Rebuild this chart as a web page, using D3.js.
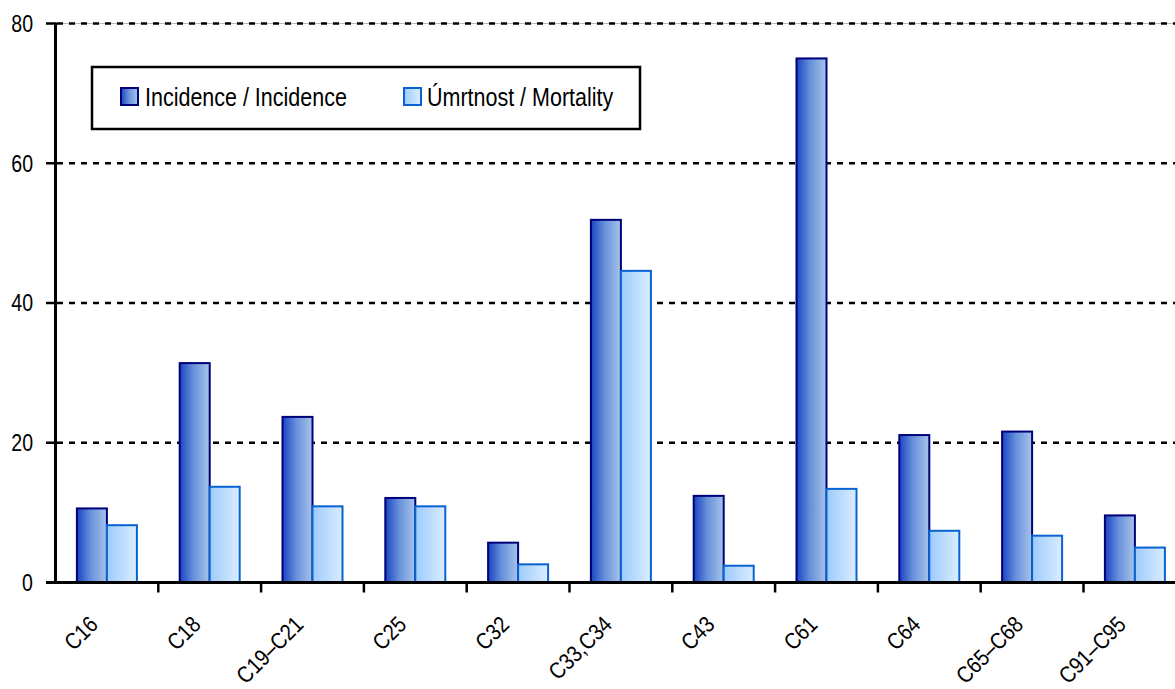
<!DOCTYPE html>
<html><head><meta charset="utf-8">
<script src="https://cdn.jsdelivr.net/npm/d3@7"></script>
<style>
html,body{margin:0;padding:0;background:#fff;overflow:hidden;}
text{font-family:"Liberation Sans",Arial,sans-serif;fill:#000;}
</style></head>
<body>
<svg id="chart" width="1175" height="689"></svg>
<script>
const categories = ["C16","C18","C19–C21","C25","C32","C33,C34","C43","C61","C64","C65–C68","C91–C95"];
const incidence = [10.6, 31.4, 23.7, 12.1, 5.7, 51.9, 12.4, 75.0, 21.1, 21.6, 9.6];
const mortality = [8.2, 13.7, 10.9, 10.9, 2.6, 44.6, 2.4, 13.4, 7.4, 6.7, 5.0];
const yTicks = [0, 20, 40, 60, 80];
const seriesNames = ["Incidence / Incidence", "Úmrtnost / Mortality"];

const svg = d3.select("#chart");
const defs = svg.append("defs");
function grad(id, stops){
  const g = defs.append("linearGradient").attr("id", id).attr("x1","0%").attr("x2","100%").attr("y1","0%").attr("y2","0%");
  stops.forEach(s => g.append("stop").attr("offset", s[0]).attr("stop-color", s[1]));
}
grad("gInc", [["0%","#1a44c2"],["45%","#6690da"],["100%","#a7c4ea"]]);
grad("gMor", [["0%","#9ccbfc"],["100%","#dbedff"]]);

const x = d3.scaleBand().domain(categories).range([55.5, 1186.3]).paddingInner(0).paddingOuter(0);
const y = d3.scaleLinear().domain([0, 80]).range([582.5, 23.5]);
const barW = 30;
const off = (x.bandwidth() - 2 * barW) / 2;

// gridlines
const grid = svg.append("g");
yTicks.filter(t => t > 0).forEach(t => {
  if (t === 80) {
    grid.append("line").attr("x1", 55).attr("x2", 1175).attr("y1", y(t)).attr("y2", y(t))
      .attr("stroke", "#bbb").attr("stroke-width", 1);
  }
  grid.append("line").attr("x1", 57).attr("x2", 1175).attr("y1", y(t)).attr("y2", y(t))
    .attr("stroke", "#000").attr("stroke-width", 2.5).attr("stroke-dasharray", "6,6");
});

// bars
const bars = svg.append("g");
categories.forEach((c, i) => {
  const x0 = x(c) + off;
  bars.append("rect").attr("x", x0).attr("y", y(incidence[i])).attr("width", barW)
    .attr("height", y(0) - y(incidence[i])).attr("fill", "url(#gInc)")
    .attr("stroke", "#00007a").attr("stroke-width", 2);
  bars.append("rect").attr("x", x0 + barW).attr("y", y(mortality[i])).attr("width", barW)
    .attr("height", y(0) - y(mortality[i])).attr("fill", "url(#gMor)")
    .attr("stroke", "#0a62d2").attr("stroke-width", 2);
});

// y axis
const yAxis = svg.append("g");
yAxis.append("line").attr("x1", 55.5).attr("x2", 55.5).attr("y1", y(80) - 1).attr("y2", y(0) + 1.5)
  .attr("stroke", "#000").attr("stroke-width", 3);
yTicks.forEach(t => {
  yAxis.append("line").attr("x1", 46).attr("x2", 55.5).attr("y1", y(t)).attr("y2", y(t))
    .attr("stroke", "#000").attr("stroke-width", 2.5);
  yAxis.append("text").attr("transform", `translate(33,${y(t)}) scale(0.85,1)`)
    .attr("text-anchor", "end").attr("dy", "0.36em").attr("font-size", 23).text(t);
});

// x axis
const xAxis = svg.append("g");
xAxis.append("line").attr("x1", 46).attr("x2", 1175).attr("y1", y(0)).attr("y2", y(0))
  .attr("stroke", "#000").attr("stroke-width", 3);
categories.forEach((c, i) => {
  if (i > 0) {
    xAxis.append("line").attr("x1", x(c)).attr("x2", x(c)).attr("y1", y(0)).attr("y2", y(0) + 10)
      .attr("stroke", "#000").attr("stroke-width", 2.5);
  }
  const cx = x(c) + x.bandwidth() / 2;
  xAxis.append("text").attr("transform", `translate(${cx - 19},${y(0) + 32}) rotate(-45) scale(0.86,1)`)
    .attr("text-anchor", "end").attr("dy", "0.7em").attr("font-size", 23).text(c);
});

// legend
const lg = svg.append("g");
lg.append("rect").attr("x", 92).attr("y", 67).attr("width", 548).attr("height", 62)
  .attr("fill", "#fff").attr("stroke", "#000").attr("stroke-width", 2.5);
const items = [
  {name: seriesNames[0], sx: 121, tx: 145, fill: "url(#gInc)", stroke: "#00007a"},
  {name: seriesNames[1], sx: 404, tx: 427, fill: "url(#gMor)", stroke: "#0a62d2"}
];
items.forEach(it => {
  lg.append("rect").attr("x", it.sx).attr("y", 88).attr("width", 17).attr("height", 17)
    .attr("fill", it.fill).attr("stroke", it.stroke).attr("stroke-width", 2);
  lg.append("text").attr("transform", `translate(${it.tx},106) scale(0.86,1)`)
    .attr("font-size", 25).text(it.name);
});
</script>
</body></html>
